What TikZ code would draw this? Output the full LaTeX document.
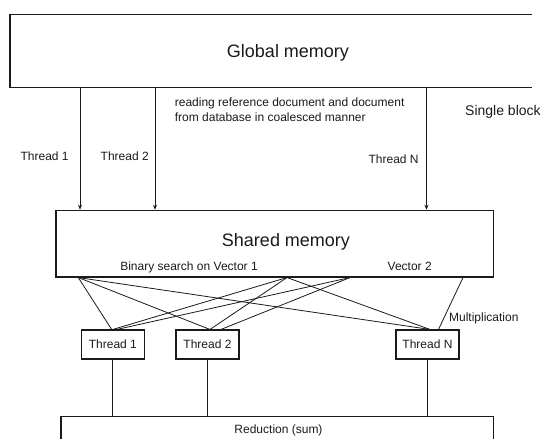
\documentclass[tikz,border=0pt]{standalone}
\usepackage{fontspec}
\setmainfont{Liberation Sans}
\usepackage{xcolor}
\usetikzlibrary{arrows.meta, positioning, calc}
\definecolor{inkdark}{HTML}{1A1A1A}
\tikzset{
  lbl/.style={font=\fontsize{12}{15}\selectfont, text=inkdark, inner sep=0pt},
  title/.style={font=\fontsize{18}{22}\selectfont, text=inkdark, inner sep=0pt},
  box/.style={draw=inkdark, line width=1.1pt, inner sep=0pt},
  wire/.style={draw=inkdark, line width=0.8pt},
  flow/.style={-{Stealth[length=5pt, width=4pt]}, line width=0.9pt, draw=inkdark},
}

\begin{document}
\begin{tikzpicture}[x=1pt, y=-1pt,
  thr/.style={box, minimum width=63pt, minimum height=29pt, font=\fontsize{12}{15}\selectfont, text=inkdark}]
  \useasboundingbox (0,0) rectangle (542,439);
  \clip (0,0) rectangle (542,439);
  % Global memory, open on the right
  \node[minimum width=522pt, minimum height=73pt, inner sep=0pt] (global) at (271,51) {};
  \draw[line width=1.5pt, inkdark] (global.north east) -- (global.north west) -- (global.south west) -- (global.south east);
  \node[title] (globallbl) at (288,53) {Global memory};
  \node[lbl, anchor=west, align=left] (readnote) at (174.7,110.2) {reading reference document and document\\from database in coalesced manner};
  \node[lbl, font=\fontsize{14}{17}\selectfont, anchor=west] (blocknote) at (465,112.3) {Single block};
  % Shared memory
  \node[box, minimum width=437.4pt, minimum height=66.7pt] (shared) at (274.7,243.65) {};
  \node[title] (sharedlbl) at (286,241.7) {Shared memory};
  \node[lbl] (vec1) at (189,267.7) {Binary search on Vector 1};
  \node[lbl] (vec2) at (409.7,266) {Vector 2};
  % coalesced reads, one per thread
  \foreach \n/\x in {r1/80, r2/155, rN/426.5} \coordinate (\n) at (\x,0);
  \foreach \n in {r1,r2,rN} \draw[flow] (global.south -| \n) -- (shared.north -| \n);
  \node[lbl] (rd1) at (44.6,156.7) {Thread 1};
  \node[lbl] (rd2) at (124.7,156.7) {Thread 2};
  \node[lbl] (rdN) at (393.6,159) {Thread N};
  % Threads doing the search
  \node[thr] (t1) at (112.85,344.5) {Thread 1};
  \node[thr] (t2) at (207.5,344.5) {Thread 2};
  \node[thr] (tN) at (427.5,344.5) {Thread N};
  \foreach \n/\x in {sL/78.3, sM/287, sR/350, sV/463} \coordinate (\n) at (\x,0);
  \foreach \s/\t/\dx in {sL/t1/-1.2, sL/t2/2.5, sL/tN/2.5, sM/t1/0, sM/t2/2.5, sM/tN/2.5, sR/t1/4, sR/t2/13.5}
    \draw[wire] (shared.south -| \s) -- ([xshift=\dx pt]\t.north);
  \draw[wire] (shared.south -| sV) -- node[lbl, pos=0.78, anchor=west, xshift=4.8pt] (mult) {Multiplication} ([xshift=11pt]tN.north);
  % Reduction, cut at the bottom
  \node[box, anchor=north, minimum width=432.4pt, minimum height=60pt] (red) at (277.2,415.7) {};
  \node[lbl] (redlbl) at (278.5,430) {Reduction (sum)};
  \foreach \t in {t1,t2,tN} \draw[wire] (\t.south) -- (\t.south |- red.north);
\end{tikzpicture}
\end{document}
